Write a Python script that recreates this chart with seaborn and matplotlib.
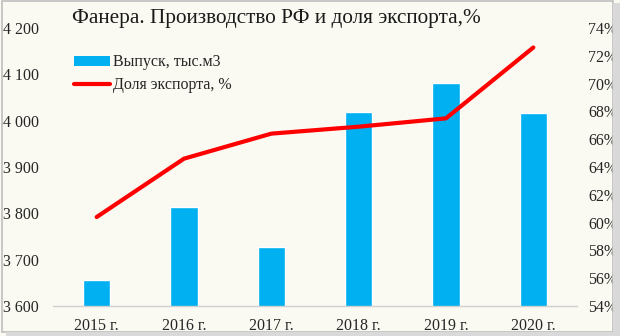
import matplotlib
matplotlib.use("Agg")
import matplotlib.pyplot as plt
from matplotlib.patches import Patch, Rectangle
from matplotlib.lines import Line2D
from matplotlib.ticker import FuncFormatter, MultipleLocator
import numpy as np
import pandas as pd
import seaborn as sns

# Plywood output in Russia (thousand m3) and export share (%)
years = ["2015 г.", "2016 г.", "2017 г.", "2018 г.", "2019 г.", "2020 г."]
output_k_m3 = [3656, 3813, 3728, 4018, 4082, 4016]
export_share = [60.4, 64.6, 66.4, 66.9, 67.5, 72.6]

title = "Фанера. Производство РФ и доля экспорта,%"
bar_label = "Выпуск, тыс.м3"
line_label = "Доля экспорта, %"

bg = "#FAFAF2"
blue = "#00B0F0"
red = "#FF0000"

sns.set_theme(style="white")
plt.rcParams["font.family"] = ["Liberation Serif", "DejaVu Serif"]

fig = plt.figure(figsize=(6.2, 3.36), dpi=100, facecolor=bg)
ax = fig.add_axes([53 / 620, 1 - 306 / 336, 524 / 620, 278 / 336])
ax.set_facecolor("none")

df = pd.DataFrame({"year": years, "output": output_k_m3, "share": export_share})

sns.barplot(data=df, x="year", y="output", color=blue, width=0.31,
            saturation=1, ax=ax, zorder=2)
ax.set_ylim(3600, 4200)
ax.yaxis.set_major_locator(MultipleLocator(100))
ax.yaxis.set_major_formatter(
    FuncFormatter(lambda v, _: f"{int(v):,}".replace(",", " ")))
ax.set_xlabel("")
ax.set_ylabel("")

ax2 = ax.twinx()
sns.lineplot(x=np.arange(len(years)), y=df["share"], color=red, lw=3,
             ax=ax2, zorder=3, solid_capstyle="round")
ax2.set_ylim(54, 74)
ax2.yaxis.set_major_locator(MultipleLocator(2))
ax2.yaxis.set_major_formatter(FuncFormatter(lambda v, _: f"{int(v)}%"))
ax2.set_ylabel("")
ax.set_xlim(-0.5, len(years) - 0.5)

for a in (ax, ax2):
    for s in a.spines.values():
        s.set_visible(False)
    a.tick_params(length=0, labelsize=11.5, colors="#262626")
ax.spines["bottom"].set_visible(True)
ax.spines["bottom"].set_color("#D0D0D0")
ax.spines["bottom"].set_linewidth(1)
ax.tick_params(axis="y", pad=10)
ax.tick_params(axis="x", pad=9)
ax2.tick_params(axis="y", pad=8)

handles = [Patch(facecolor=blue, edgecolor="none"),
           Line2D([0], [0], color=red, lw=3)]
fig.legend(handles, [bar_label, line_label], loc="upper left",
           bbox_to_anchor=(68 / 620, 1 - 48 / 336), frameon=False,
           fontsize=11.5, handlelength=2.2, handleheight=0.55,
           handletextpad=0.2, labelspacing=0.4, borderaxespad=0)

fig.text(72 / 620, 1 - 18 / 336, title, fontsize=15.3, va="center",
         ha="left", color="#1a1a1a")

# outer frame with a soft shadow on the right and bottom
fig.patches.append(Rectangle((0.004, 0.012), 0.985, 0.984,
                             transform=fig.transFigure, fill=False,
                             edgecolor="#BFBFBF", lw=1.2))
fig.patches.append(Rectangle((0.989, 0.0), 0.011, 0.99,
                             transform=fig.transFigure, color="#D9D9D9",
                             lw=0))
fig.patches.append(Rectangle((0.01, 0.0), 0.99, 0.012,
                             transform=fig.transFigure, color="#D9D9D9",
                             lw=0))

fig.savefig("out.png", dpi=100, facecolor=bg)
